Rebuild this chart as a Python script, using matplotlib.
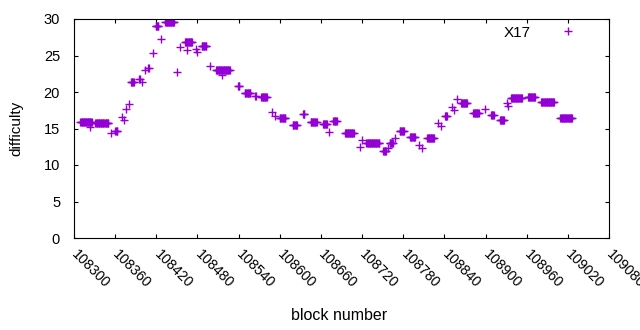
import numpy as np
import matplotlib
matplotlib.use('Agg')
import matplotlib.pyplot as plt

plt.rcParams['font.family'] = ['Liberation Sans', 'DejaVu Sans']
plt.rcParams['font.size'] = 11

# runs of consecutive blocks that share one difficulty level
run_start = [108309, 108331, 108360, 108383, 108395, 108408, 108419, 108433, 108462,
             108486, 108507, 108539, 108549, 108564, 108573, 108600, 108619, 108634,
             108645, 108663, 108678, 108695, 108726, 108751, 108760, 108775, 108790,
             108815, 108841, 108864, 108882, 108908, 108921, 108937, 108962, 108981,
             109009]
run_end = [108326, 108350, 108363, 108387, 108396, 108409, 108423, 108446, 108472,
           108493, 108527, 108541, 108557, 108565, 108581, 108608, 108625, 108636,
           108654, 108669, 108683, 108708, 108745, 108755, 108765, 108781, 108797,
           108825, 108844, 108873, 108890, 108912, 108927, 108953, 108972, 109000,
           109026]
run_level = [15.9, 15.75, 14.65, 21.4, 21.8, 23.3, 29.0, 29.6, 26.9,
             26.3, 23.0, 20.8, 19.9, 19.5, 19.3, 16.4, 15.5, 17.0,
             15.9, 15.6, 16.0, 14.4, 13.0, 11.9, 13.0, 14.65, 13.8,
             13.7, 16.7, 18.5, 17.1, 16.85, 16.2, 19.2, 19.3, 18.6,
             16.4]

# single blocks between the runs
extra_block = [108323, 108354, 108370, 108373, 108376, 108380, 108399, 108404, 108415,
               108427, 108450, 108455, 108465, 108478, 108479, 108498, 108516, 108589,
               108593, 108672, 108717, 108720, 108758, 108768, 108803, 108807, 108831,
               108835, 108851, 108854, 108858, 108899, 108931, 108933]
extra_diff = [15.2, 14.4, 16.6, 16.2, 17.7, 18.4, 21.4, 23.0, 25.3,
              27.3, 22.7, 26.2, 25.8, 25.9, 25.5, 23.6, 22.3, 17.3,
              16.7, 14.5, 12.5, 13.4, 12.3, 13.7, 12.7, 12.3, 15.75,
              15.3, 17.9, 17.5, 19.0, 17.7, 18.5, 18.1]

x_ticks = list(range(108300, 109081, 60))
y_ticks = [0, 5, 10, 15, 20, 25, 30]

blocks = np.concatenate([np.arange(s, e + 1) for s, e in zip(run_start, run_end)] + [extra_block])
diff = np.concatenate([np.full(e - s + 1, v) for s, e, v in zip(run_start, run_end, run_level)] + [extra_diff])

fig = plt.figure(figsize=(6.4, 3.3), dpi=100)
ax = fig.add_axes([74 / 640, 1 - 238 / 330, 535 / 640, 219 / 330])
ax.plot(blocks, diff, '+', color='#9400D3', ms=5.6, mew=1.0, label='X17')

ax.set_xlim(108300, 109080)
ax.set_ylim(0, 30)
ax.set_xticks(x_ticks)
ax.set_xticklabels([str(t) for t in x_ticks], rotation=-45, ha='left', va='center',
                   rotation_mode='anchor', fontsize=10.3)
ax.set_yticks(y_ticks)
ax.set_yticklabels([str(t) for t in y_ticks], fontsize=10.5)
ax.tick_params(direction='in', length=3, width=0.8, top=True, right=True)
ax.tick_params(axis='x', pad=10)
ax.tick_params(axis='y', pad=10)
for s in ax.spines.values():
    s.set_linewidth(0.8)

ax.set_xlabel('block number', fontsize=11.5)
ax.xaxis.set_label_coords(0.495, -0.32)
ax.set_ylabel('difficulty')
ax.yaxis.set_label_coords(-0.095, 0.5)

ax.legend(loc='upper right', bbox_to_anchor=(0.957, 0.97), markerfirst=False,
          frameon=False, borderaxespad=0, borderpad=0, handlelength=2.4,
          handletextpad=1.25)

fig.savefig('out.png', dpi=100)
